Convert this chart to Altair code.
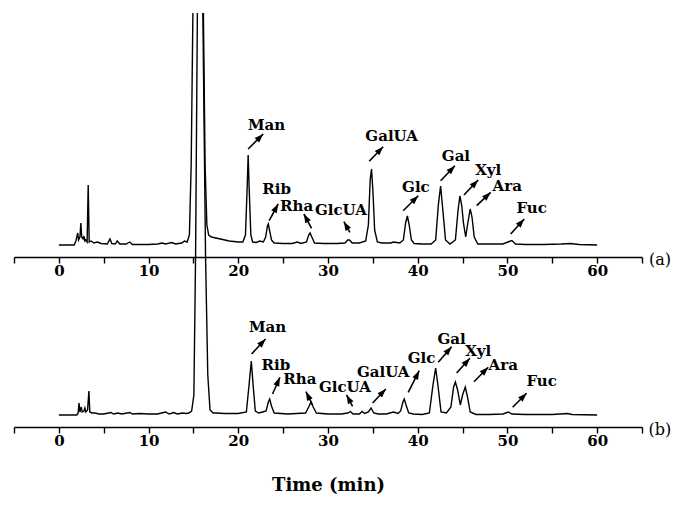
import math
import altair as alt
import pandas as pd

# ---------------- data ----------------
# panel (a) chromatogram: retention time (min) and detector signal (arbitrary units)
A_TIME = [
    0.0, 1.7, 1.9, 2.1, 2.2, 2.35, 2.45, 2.55, 2.7, 2.8,
    2.9, 3.0, 3.15, 3.27, 3.38, 3.6, 3.9, 4.3, 4.7, 5.4,
    5.7, 5.9, 6.3, 6.5, 6.8, 7.5, 7.9, 8.2, 9.0, 10.0,
    11.0, 11.5, 11.9, 12.6, 13.0, 13.7, 14.0, 14.3, 14.55, 14.75,
    14.95, 15.55, 16.1, 16.3, 16.5, 16.7, 17.0, 17.5, 18.0, 18.5,
    19.0, 19.5, 20.0, 20.5, 20.8, 21.0, 21.1, 21.2, 21.4, 21.6,
    22.0, 22.4, 22.8, 23.05, 23.25, 23.35, 23.5, 23.7, 24.0, 25.0,
    26.0, 26.6, 27.0, 27.6, 27.85, 28.0, 28.2, 28.5, 29.5, 31.0,
    31.9, 32.2, 32.4, 32.7, 33.5, 34.2, 34.5, 34.7, 34.85, 35.0,
    35.2, 35.5, 36.0, 37.0, 37.3, 38.0, 38.4, 38.65, 38.85, 39.05,
    39.3, 39.6, 40.5, 41.5, 42.0, 42.3, 42.55, 42.8, 43.1, 43.6,
    44.2, 44.5, 44.7, 44.9, 45.1, 45.35, 45.55, 45.85, 46.05, 46.3,
    46.7, 48.0, 49.5, 50.2, 50.5, 50.9, 52.0, 54.0, 56.0, 57.0,
    58.0, 60.0,
]
A_SIGNAL = [
    0, 0, 4, 12, 5, 8, 22, 8, 6, 9,
    4, 5, 3, 60, 3, 4, 2, 3, 1.5, 1,
    6, 1.5, 1, 4, 1, 1, 3, 0.5, 0.5, 0.5,
    1, 2, 1, 2.5, 1, 2, 4, 3, 10, 80,
    240, 700, 240, 80, 20, 10, 8, 7, 6, 5,
    4, 3.5, 3, 3, 10, 60, 90, 60, 10, 3,
    2.5, 4, 3, 8, 19, 21, 14, 5, 2, 1.5,
    1.5, 3, 1.5, 3, 10, 12, 8, 2, 1.5, 1.5,
    2, 5, 5, 2, 2, 4, 20, 65, 76, 55,
    15, 3, 2, 2, 3, 2, 5, 22, 29, 20,
    5, 1.5, 1, 1, 5, 40, 59, 35, 5, 1,
    5, 35, 49, 40, 22, 8, 20, 36, 28, 8,
    1, 1, 1, 3.5, 4.5, 1, 0.5, 0.5, 1, 1.5,
    0.5, 0,
]

# panel (b) chromatogram (the huge peak near 15.5 min leaves the panel at the top)
B_TIME = [
    0.0, 2.0, 2.15, 2.25, 2.35, 2.5, 2.6, 2.8, 2.9, 3.0,
    3.2, 3.35, 3.45, 3.7, 4.0, 4.5, 5.0, 5.8, 6.1, 6.6,
    7.0, 7.9, 8.2, 9.0, 10.0, 11.0, 11.9, 12.3, 12.8, 13.2,
    13.8, 14.2, 14.5, 14.8, 15.05, 15.24, 15.44,
    16.05, 16.35, 16.6, 16.85, 17.2, 17.5, 18.5, 20.0, 20.9, 21.2,
    21.45, 21.65, 21.9, 22.3, 22.7, 23.1, 23.35, 23.5, 23.7, 24.0,
    25.5, 26.5, 27.5, 27.9, 28.1, 28.35, 28.7, 30.0, 31.5, 32.2,
    32.5, 32.8, 33.5, 33.8, 34.1, 34.5, 34.8, 35.1, 35.6, 36.5,
    37.3, 37.8, 38.1, 38.35, 38.5, 38.7, 39.0, 39.5, 40.5, 41.3,
    41.7, 42.0, 42.25, 42.6, 43.2, 43.7, 44.0, 44.2, 44.45, 44.75,
    45.0, 45.3, 45.55, 45.85, 46.5, 48.0, 49.5, 50.1, 50.5, 52.0,
    55.0, 56.7, 57.2, 60.0,
]
B_SIGNAL = [
    0, 0, 2, 12, 3, 8, 3, 4, 7, 3,
    5, 24, 3, 2, 2, 1, 1, 2.5, 1, 2,
    1, 2.5, 1, 1.5, 1, 1, 3, 1, 2.5, 1,
    2, 1.5, 2, 4, 20, 159, 402,
    402, 159, 40, 5, 2, 2, 1.5, 1.5, 3, 30,
    54, 30, 4, 2, 3, 4, 13, 16, 9, 2,
    1, 1.5, 2, 9, 13, 8, 2, 1, 1, 2,
    3.5, 1, 1, 3.5, 1.5, 3, 7, 2, 1, 1,
    3, 1.5, 4, 13, 16, 10, 2, 1, 0.5, 2,
    30, 47, 30, 3, 2, 8, 28, 33, 25, 10,
    20, 28, 18, 3, 0.5, 0.5, 1, 3, 1, 0.5,
    0.5, 1.5, 0.5, 0,
]
B_BREAK_TIME = 15.7  # the trace of (b) runs off the top between these flanks

LABELS = ["Man", "Rib", "Rha", "GlcUA", "GalUA", "Glc", "Gal", "Xyl", "Ara", "Fuc"]

A_TEXT_T = [23.15, 24.27, 26.5, 31.44, 37.09, 39.8, 44.26, 47.86, 49.98, 52.7]
A_TEXT_V = [120, 56, 38.7, 35, 108.7, 57.7, 89.3, 75.3, 58.7, 36.7]
A_TAIL_T = [21.1, 23.44, 28.17, 32.44, 34.59, 38.38, 42.55, 45.15, 46.57, 50.36]
A_TAIL_V = [96, 24.3, 16.7, 12.7, 83.7, 34.3, 64.3, 50, 39.3, 11]
A_HEAD_T = [22.78, 24.45, 27.31, 31.77, 36.15, 40.06, 44.15, 46.74, 48.13, 51.87]
A_HEAD_V = [111, 41, 31, 23.3, 98.3, 49.3, 79.3, 65, 52.7, 26]

B_TEXT_T = [23.27, 24.19, 26.87, 31.88, 36.15, 40.43, 43.78, 46.74, 49.53, 53.81]
B_TEXT_V = [87.7, 50, 36, 28, 43.3, 56.7, 76, 64.3, 50, 34.3]
B_TAIL_T = [21.48, 23.82, 28.28, 32.74, 34.97, 38.94, 42.29, 44.34, 46.27, 50.58]
B_TAIL_V = [61, 21, 10, 8.7, 12, 22.7, 52.7, 42, 33.3, 7.7]
B_HEAD_T = [23.04, 24.64, 27.54, 32.07, 36.45, 40.17, 43.78, 45.82, 47.86, 52.14]
B_HEAD_V = [76, 37.7, 23.3, 20, 26, 44.3, 68.3, 56.7, 47.7, 21.7]

PANEL_NAMES = ["(a)", "(b)"]
PANEL_NAME_T = [67.0, 67.0]
PANEL_NAME_V = [-15, -15]

X_DOMAIN = [-5, 65]
X_TICKS = list(range(-5, 66, 5))

# ---------------- layout / style ----------------
FONT = "DejaVu Serif"
W = 628
A_DOMAIN, A_H = [-12, 232], 244
B_DOMAIN, B_H = [-12, 120], 132
PX_PER_MIN = W / (X_DOMAIN[1] - X_DOMAIN[0])
ARROW = "M0,0L0.5,1.4L-0.5,1.4Z"

assert len(A_TIME) == len(A_SIGNAL)
assert len(B_TIME) == len(B_SIGNAL)


def annotations(tt, tv, at, av, ht, hv):
    df = pd.DataFrame({"label": LABELS, "text_t": tt, "text_v": tv,
                       "tail_t": at, "tail_v": av, "head_t": ht, "head_v": hv})
    # rotation of the arrow head, from the on-screen direction of the arrow
    df["angle"] = [
        (math.degrees(math.atan2((h - a) * PX_PER_MIN, (hy - ay))) + 360) % 360
        for a, h, ay, hy in zip(at, ht, av, hv)
    ]
    return df


def panel(trace, ann, name_df, ydomain, height, title, clip):
    xscale = alt.Scale(domain=X_DOMAIN, nice=False, zero=False)
    yscale = alt.Scale(domain=ydomain, nice=False, zero=False)
    axis_kw = dict(
        values=X_TICKS,
        labelExpr="(datum.value % 10 == 0 && datum.value >= 0 && datum.value <= 60) ? datum.label : ''",
        grid=False, domainColor="black", domainWidth=1.4, tickColor="black",
        tickWidth=1.4, tickSize=6, labelFont=FONT, labelFontWeight="bold",
        labelFontSize=15, labelColor="black", labelPadding=0, labelFlush=False,
        labelOverlap=False, titleFont=FONT, titleFontWeight="bold",
        titleFontSize=18, titleColor="black", titlePadding=28,
    )
    xaxis = alt.Axis(title=title, **axis_kw) if title else alt.Axis(title=None, **axis_kw)

    def X(f):
        return alt.X(f, type="quantitative", scale=xscale, axis=xaxis)

    def Y(f):
        return alt.Y(f, type="quantitative", scale=yscale, axis=None)

    line = alt.Chart(trace).mark_line(color="black", strokeWidth=1.4, clip=clip).encode(
        x=X("t"), y=Y("v"), detail="seg:N", order="t:Q")
    rules = alt.Chart(ann).mark_rule(color="black", strokeWidth=1.6).encode(
        x=X("tail_t"), y=Y("tail_v"), x2="head_t:Q", y2="head_v:Q")
    heads = alt.Chart(ann).mark_point(shape=ARROW, filled=True, color="black",
                                      opacity=1, size=160, strokeWidth=0).encode(
        x=X("head_t"), y=Y("head_v"), angle=alt.Angle("angle:Q", scale=None))
    texts = alt.Chart(ann).mark_text(font=FONT, fontWeight="bold", fontSize=15,
                                     color="black", align="center", baseline="middle").encode(
        x=X("text_t"), y=Y("text_v"), text="label:N")
    name = alt.Chart(name_df).mark_text(font=FONT, fontSize=16, color="black",
                                        align="center", baseline="middle").encode(
        x=X("t"), y=Y("v"), text="name:N")
    return alt.layer(line, rules, heads, texts, name).properties(width=W, height=height)


trace_a = pd.DataFrame({"t": A_TIME, "v": A_SIGNAL, "seg": 1})
trace_b = pd.DataFrame({"t": B_TIME, "v": B_SIGNAL})
trace_b["seg"] = [1 if t < B_BREAK_TIME else 2 for t in B_TIME]

ann_a = annotations(A_TEXT_T, A_TEXT_V, A_TAIL_T, A_TAIL_V, A_HEAD_T, A_HEAD_V)
ann_b = annotations(B_TEXT_T, B_TEXT_V, B_TAIL_T, B_TAIL_V, B_HEAD_T, B_HEAD_V)
name_a = pd.DataFrame({"t": [PANEL_NAME_T[0]], "v": [PANEL_NAME_V[0]], "name": [PANEL_NAMES[0]]})
name_b = pd.DataFrame({"t": [PANEL_NAME_T[1]], "v": [PANEL_NAME_V[1]], "name": [PANEL_NAMES[1]]})

top = panel(trace_a, ann_a, name_a, A_DOMAIN, A_H, None, True)
bottom = panel(trace_b, ann_b, name_b, B_DOMAIN, B_H, "Time (min)", False)

chart = alt.vconcat(top, bottom, spacing=38, bounds="flush").properties(
    padding={"left": 5, "top": 2, "right": 5, "bottom": 5}
).configure(background="white", view=alt.ViewConfig(stroke=None))

chart.save("out.html", embed_options={"renderer": "svg", "actions": False})
